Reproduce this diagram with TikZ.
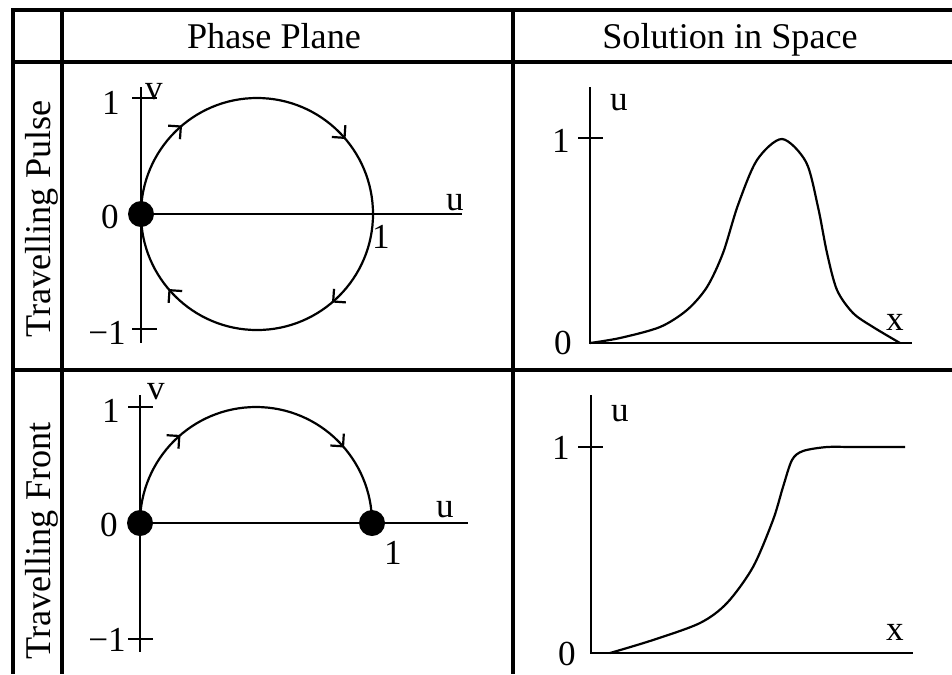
\documentclass[tikz,border=0pt]{standalone}
\usepackage{fontspec}
\setmainfont{Liberation Serif}
\usetikzlibrary{decorations.markings}

\newcommand{\flowbarb}{\draw[line width=0.22mm] (-0.9mm,0.9mm) -- (0,0) -- (-0.9mm,-0.9mm);}

\begin{document}
\begin{tikzpicture}[
x=0.1mm, y=0.1mm,
grid/.style={line width=0.32mm},
axis/.style={line width=0.22mm},
curve/.style={line width=0.22mm, line join=round},
fixpt/.style={circle, fill, inner sep=0pt, minimum size=2.6mm},
head/.style={font=\fontsize{10.3}{12}\selectfont, anchor=base},
lbl/.style={font=\fontsize{10}{12}\selectfont, inner sep=0pt},
]
\useasboundingbox (0,0) rectangle (952,-674);

% Tabelle
\draw[grid] (952,-10) -| (13,-674);
\draw[grid] (62,-10) -- (62,-674);
\draw[grid] (513,-10) -- (513,-674);
\draw[grid] (13,-62) -- (952,-62);
\draw[grid] (13,-370) -- (952,-370);

\node[head] (hphase) at (274,-48) {Phase Plane};
\node[head] (hspace) at (730,-48) {Solution in Space};
\node[head, rotate=90] (rpulse) at (50,-219) {Travelling Pulse};
\node[head, rotate=90] (rfront) at (50,-541) {Travelling Front};

% Phasenebene - Puls
\coordinate (pO) at (141,-214);
\coordinate (pvt) at (141,-87);
\coordinate (pvb) at (141,-343);
\coordinate (pue) at (462,-214);
\draw[axis] (pvt) -- (pvb);
\draw[axis] (pO) -- (pue);
\draw[axis] (132,-98) -- (157,-98);
\draw[axis] (132,-329) -- (157,-329);
\draw[curve, postaction={decorate}, decoration={markings,
  mark=at position 0.136 with {\flowbarb},
  mark=at position 0.386 with {\flowbarb},
  mark=at position 0.636 with {\flowbarb},
  mark=at position 0.886 with {\flowbarb}}]
  (pO) arc[start angle=180, end angle=-180, radius=116];
\node[fixpt] (pfix) at (pO) {};
\node[lbl] (pone) at (111,-103) {1};
\node[lbl] (pzero) at (110,-217) {0};
\node[lbl] (pmone) at (107,-333) {−1};
\node[lbl] (pv) at (154,-92) {v};
\node[lbl] (pu) at (455,-203) {u};
\node[lbl] (puone) at (381,-237) {1};

% Phasenebene - Front
\coordinate (qO) at (140,-523);
\coordinate (qI) at (372,-523);
\coordinate (qvt) at (140,-395);
\coordinate (qvb) at (140,-652);
\coordinate (que) at (468,-523);
\draw[axis] (qvt) -- (qvb);
\draw[axis] (qO) -- (que);
\draw[axis] (128,-407) -- (153,-407);
\draw[axis] (128,-639) -- (153,-639);
\draw[curve, postaction={decorate}, decoration={markings,
  mark=at position 0.27 with {\flowbarb},
  mark=at position 0.77 with {\flowbarb}}]
  (qO) arc[start angle=180, end angle=0, radius=116];
\node[fixpt] (qfix) at (qO) {};
\node[fixpt] (qfixone) at (qI) {};
\node[lbl] (qone) at (111,-411) {1};
\node[lbl] (qzero) at (109,-525) {0};
\node[lbl] (qmone) at (107,-640) {−1};
\node[lbl] (qv) at (156,-392) {v};
\node[lbl] (qu) at (445,-510) {u};
\node[lbl] (quone) at (393,-553) {1};

% Loesung - Puls
\coordinate (sO) at (590,-343);
\draw[axis] (590,-87) |- (912,-343);
\draw[axis] (578,-138) -- (603,-138);
\draw[curve] plot[smooth] coordinates {(sO) (620,-338) (660,-327) (687,-310)
  (707,-287) (723,-253) (738,-205) (757,-160) (782,-139) (806,-162)
  (818,-207) (827,-253) (837,-290) (853,-313) (873,-327) (900,-343)};
\node[lbl] (su) at (619,-103) {u};
\node[lbl] (sone) at (561,-141) {1};
\node[lbl] (szero) at (563,-343) {0};
\node[lbl] (sx) at (895,-322) {x};

% Loesung - Front
\draw[axis] (591,-395) |- (913,-653);
\draw[axis] (578,-447) -- (603,-447);
\draw[curve] plot[smooth] coordinates {(610,-653) (653,-640) (700,-623)
  (727,-603) (753,-567) (773,-520) (783,-487) (792,-460) (803,-451) (827,-447)
  (853,-447) (905,-447)};
\node[lbl] (tu) at (620,-414) {u};
\node[lbl] (tone) at (561,-448) {1};
\node[lbl] (tzero) at (567,-654) {0};
\node[lbl] (tx) at (895,-632) {x};

\end{tikzpicture}
\end{document}
